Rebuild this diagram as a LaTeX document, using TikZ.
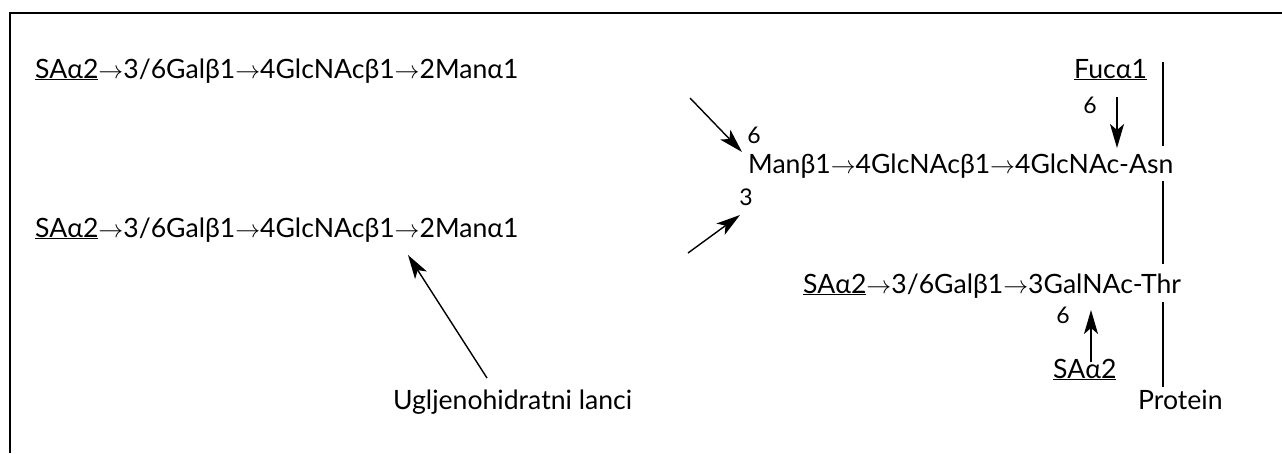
\documentclass[tikz,border=0pt]{standalone}
\usepackage{fontspec}
\setmainfont{Lato}
\usetikzlibrary{arrows.meta}
\newcommand{\ra}{$\rightarrow$}
\newcommand{\ul}[1]{\underline{#1}}
\begin{document}
\begin{tikzpicture}[x=1pt,y=-1pt,
  txt/.style={inner sep=0pt,font=\fontsize{26.6}{30}\selectfont},
  num/.style={inner sep=0pt,font=\fontsize{23}{27}\selectfont},
  arr/.style={-{Stealth[length=24pt,width=14pt,inset=6pt]},line width=1.4pt},
  frame/.style={line width=2pt}]
\useasboundingbox (0,0) rectangle (1282,453);
\draw[frame] (10,453) -- (10,13) -- (1282,13);

\node[txt,anchor=base west] (c1) at (35,78) {\ul{SAα2}\ra3/6Galβ1\ra4GlcNAcβ1\ra2Manα1};
\node[txt,anchor=base west] (c2) at (35,237) {\ul{SAα2}\ra3/6Galβ1\ra4GlcNAcβ1\ra2Manα1};
\node[txt,anchor=base west] (lab) at (393,409) {Ugljenohidratni lanci};

\node[txt,anchor=base west] (asn) at (748,173) {Manβ1\ra4GlcNAcβ1\ra4GlcNAc-Asn};
\node[num] (n6a) at (754,135) {6};
\node[num] (n3a) at (746,197) {3};

\node[txt,anchor=base west] (fuc) at (1074,78) {\ul{Fucα1}};
\node[num] (n6b) at (1090,105) {6};

\node[txt,anchor=base west] (thr) at (803,293) {\ul{SAα2}\ra3/6Galβ1\ra3GalNAc-Thr};
\node[num] (n6c) at (1063,315) {6};
\node[txt,anchor=base west] (sa) at (1053,378) {\ul{SAα2}};

\node[txt,anchor=base west] (prot) at (1138,409) {Protein};

\coordinate (a1s) at (690,98);  \coordinate (a1e) at (742,152);
\coordinate (a2s) at (688,253); \coordinate (a2e) at (740,215);
\coordinate (a3s) at (487,378); \coordinate (a3e) at (408,255);
\coordinate (f1) at (1117,97);  \coordinate (f2) at (1117,148);
\coordinate (s1) at (1091,362); \coordinate (s2) at (1091,310);
\draw[arr] (a1s) -- (a1e);
\draw[arr] (a2s) -- (a2e);
\draw[arr] (a3s) -- (a3e);
\draw[arr] (f1) -- (f2);
\draw[arr] (s1) -- (s2);

\coordinate (p1) at (1163,62);  \coordinate (p2) at (1163,146);
\coordinate (p3) at (1163,181); \coordinate (p4) at (1163,264);
\coordinate (p5) at (1163,302); \coordinate (p6) at (1163,387);
\draw[line width=1.5pt] (p1) -- (p2) (p3) -- (p4) (p5) -- (p6);
\end{tikzpicture}
\end{document}
